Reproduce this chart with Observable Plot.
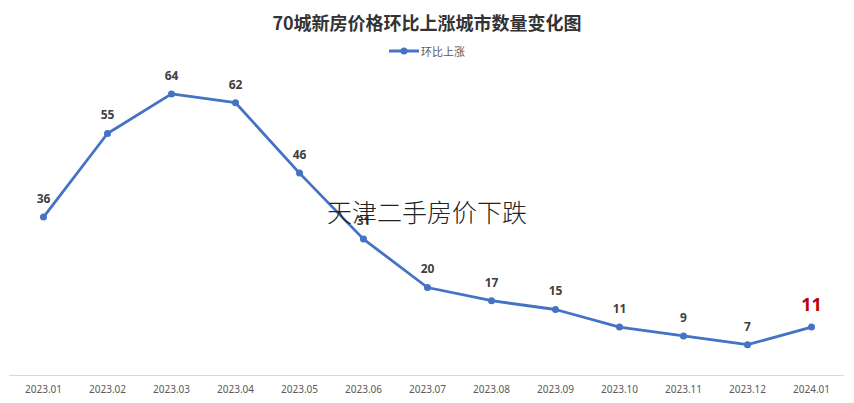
<!DOCTYPE html>
<html><head><meta charset="utf-8">
<script src="https://cdn.jsdelivr.net/npm/d3@7"></script>
<script src="https://cdn.jsdelivr.net/npm/@observablehq/plot@0.6"></script>
<style>
body{margin:0;background:#fff;font-family:"Noto Sans CJK SC","Noto Sans",sans-serif;}
#wrap{position:relative;width:854px;height:403px;overflow:hidden;}
#title{height:42px;line-height:44px;text-align:center;font-size:18px;font-weight:bold;color:#333;}
#legend{height:18px;display:flex;justify-content:center;align-items:center;font-size:11px;color:#595959;}
#legend svg{margin-right:2px;}
#wm{position:absolute;left:0;width:854px;top:193px;text-align:center;font-size:25px;color:#222;font-weight:300;}
</style></head>
<body><div id="wrap">
<div id="title">70城新房价格环比上涨城市数量变化图</div>
<div id="legend"><svg width="30" height="10"><line x1="0" y1="5" x2="30" y2="5" stroke="#4472C4" stroke-width="3"/><circle cx="15" cy="5" r="3.5" fill="#4472C4"/></svg><span>环比上涨</span></div>
<div id="chart"></div>
<div id="wm">天津二手房价下跌</div>
</div>
<script>
const months = ["2023.01","2023.02","2023.03","2023.04","2023.05","2023.06","2023.07","2023.08","2023.09","2023.10","2023.11","2023.12","2024.01"];
const values = [36,55,64,62,46,31,20,17,15,11,9,7,11];
const data = months.map((m,i)=>({month:m,value:values[i],last:i===months.length-1}));
const blue = "#4472C4";
const chart = Plot.plot({
  width:854, height:343,
  marginTop:7, marginBottom:28, marginLeft:9, marginRight:10,
  style:{fontFamily:"'Noto Sans','Liberation Sans',sans-serif",background:"#fff"},
  x:{type:"point",domain:months,padding:0.5,label:null,tickSize:0,tickPadding:10},
  y:{domain:[0,70],axis:null},
  marks:[
    Plot.ruleY([0],{stroke:"#d9d9d9",strokeWidth:1}),
    Plot.axisX({tickSize:0,tickPadding:10,fontSize:10,color:"#595959",label:null}),
    Plot.line(data,{x:"month",y:"value",stroke:blue,strokeWidth:2.8}),
    Plot.dot(data,{x:"month",y:"value",r:3.5,fill:blue}),
    Plot.text(data.filter(d=>!d.last),{x:"month",y:"value",text:d=>String(d.value),dy:-18,fontSize:12,fontWeight:"bold",fill:"#404040"}),
    Plot.text(data.filter(d=>d.last),{x:"month",y:"value",text:d=>String(d.value),dy:-22,fontSize:18,fontWeight:"bold",fill:"#c00000"})
  ]
});
document.getElementById("chart").append(chart);
</script>
</body></html>
